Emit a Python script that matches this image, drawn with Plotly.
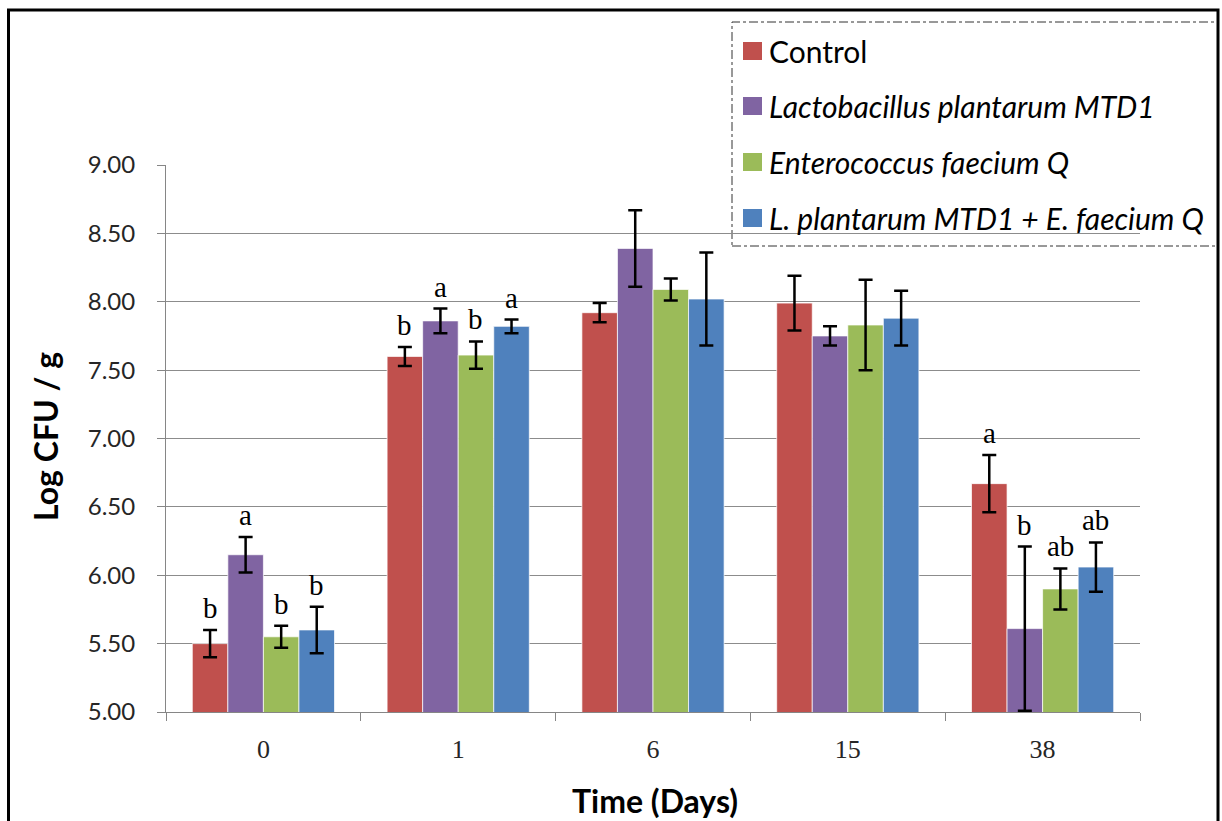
import plotly.graph_objects as go

# Sampling days and treatment groups
days = ["0", "1", "6", "15", "38"]
series_names = [
    "Control",
    "<i>Lactobacillus plantarum MTD1</i>",
    "<i>Enterococcus faecium Q</i>",
    "<i>L. plantarum MTD1 + E. faecium Q</i>",
]

# Mean counts (Log CFU / g) per treatment
control = [5.50, 7.60, 7.92, 7.99, 6.67]
l_plantarum = [6.15, 7.86, 8.39, 7.75, 5.61]
e_faecium = [5.55, 7.61, 8.09, 7.83, 5.90]
combined = [5.60, 7.82, 8.02, 7.88, 6.06]

# Standard deviations
control_sd = [0.10, 0.07, 0.07, 0.20, 0.21]
l_plantarum_sd = [0.13, 0.09, 0.28, 0.07, 0.60]
e_faecium_sd = [0.08, 0.10, 0.08, 0.33, 0.15]
combined_sd = [0.17, 0.05, 0.34, 0.20, 0.18]

# Significance letters (empty where not reported)
control_sig = ["b", "b", "", "", "a"]
l_plantarum_sig = ["a", "a", "", "", "b"]
e_faecium_sig = ["b", "b", "", "", "ab"]
combined_sig = ["b", "a", "", "", "ab"]

colors = ["#C0504D", "#8064A2", "#9BBB59", "#4F81BD"]
values = [control, l_plantarum, e_faecium, combined]
sds = [control_sd, l_plantarum_sd, e_faecium_sd, combined_sd]
sigs = [control_sig, l_plantarum_sig, e_faecium_sig, combined_sig]

BARGAP = 0.27
n_series = len(values)

# Figure geometry (pixels) used to place frame, legend and titles
W, H = 1222, 821
ML, MR, MT, MB = 166, 82, 165, 109
PW, PH = W - ML - MR, H - MT - MB


def px_x(px):
    return (px - ML) / PW


def px_y(py):
    return (H - MB - py) / PH


fig = go.Figure()
for k in range(n_series):
    fig.add_trace(go.Bar(
        x=days, y=values[k], name=series_names[k],
        marker=dict(color=colors[k], line=dict(color="rgba(255,255,255,0.7)", width=1)),
        error_y=dict(type="data", array=sds[k], visible=True,
                     color="black", thickness=2.5, width=7),
        showlegend=False,
    ))

annotations = []
# Letters above the error bars
slot = (1 - BARGAP) / n_series
for k in range(n_series):
    for i, d in enumerate(days):
        if sigs[k][i]:
            xc = i - (1 - BARGAP) / 2 + (k + 0.5) * slot
            annotations.append(dict(
                x=xc, y=values[k][i] + sds[k][i], xref="x", yref="y",
                text=sigs[k][i], showarrow=False, yanchor="bottom", yshift=4,
                font=dict(family="Liberation Serif", size=29, color="black"),
            ))

shapes = [
    # outer frame
    dict(type="rect", xref="paper", yref="paper",
         x0=px_x(8.5), x1=px_x(1218), y0=px_y(840), y1=px_y(10),
         line=dict(color="black", width=3), fillcolor="rgba(0,0,0,0)", layer="above"),
    # legend frame
    dict(type="rect", xref="paper", yref="paper",
         x0=px_x(732), x1=px_x(1218), y0=px_y(246), y1=px_y(22),
         line=dict(color="#333333", width=1, dash="dashdot"),
         fillcolor="white", layer="below"),
]

# Legend entries: colour swatch + label
row_centers = [51, 106, 162, 218]
for k in range(n_series):
    yc = row_centers[k]
    shapes.append(dict(
        type="rect", xref="paper", yref="paper",
        x0=px_x(743), x1=px_x(762), y0=px_y(yc + 9), y1=px_y(yc - 9),
        line=dict(width=0), fillcolor=colors[k], layer="above",
    ))
    annotations.append(dict(
        x=px_x(767), y=px_y(yc), xref="paper", yref="paper",
        text=series_names[k], showarrow=False, xanchor="left", yanchor="middle",
        font=dict(family="Lato", size=30, color="black"),
    ))

# Axis titles
annotations.append(dict(
    x=px_x(655), y=px_y(800), xref="paper", yref="paper",
    text="<b>Time (Days)</b>", showarrow=False, xanchor="center", yanchor="middle",
    font=dict(family="Lato", size=32, color="black"),
))
annotations.append(dict(
    x=px_x(45), y=px_y(437), xref="paper", yref="paper",
    text="<b>Log CFU / g</b>", showarrow=False, xanchor="center", yanchor="middle",
    textangle=-90, font=dict(family="Lato", size=32, color="black"),
))

fig.update_layout(
    width=W, height=H,
    margin=dict(l=ML, r=MR, t=MT, b=MB),
    paper_bgcolor="white", plot_bgcolor="white",
    barmode="group", bargap=BARGAP, bargroupgap=0,
    font=dict(family="Lato", color="#262626"),
    showlegend=False,
    annotations=annotations,
    shapes=shapes,
)

fig.update_xaxes(
    type="category", tickson="boundaries", ticks="outside", ticklen=8,
    tickcolor="#868686", showline=True, linecolor="#868686", linewidth=1,
    tickfont=dict(family="Liberation Serif", size=26, color="#262626"),
    ticklabelstandoff=14,
    showgrid=False,
)
fig.update_yaxes(
    range=[5, 9], dtick=0.5, tickformat=".2f", ticks="outside", ticklen=8,
    tickcolor="#868686", showline=True, linecolor="#868686", linewidth=1,
    showgrid=True, gridcolor="#8C8C8C", gridwidth=1, zeroline=False,
    tickfont=dict(family="Lato", size=24, color="#262626"),
    ticklabelstandoff=17,
)

fig.write_html("out.html")
